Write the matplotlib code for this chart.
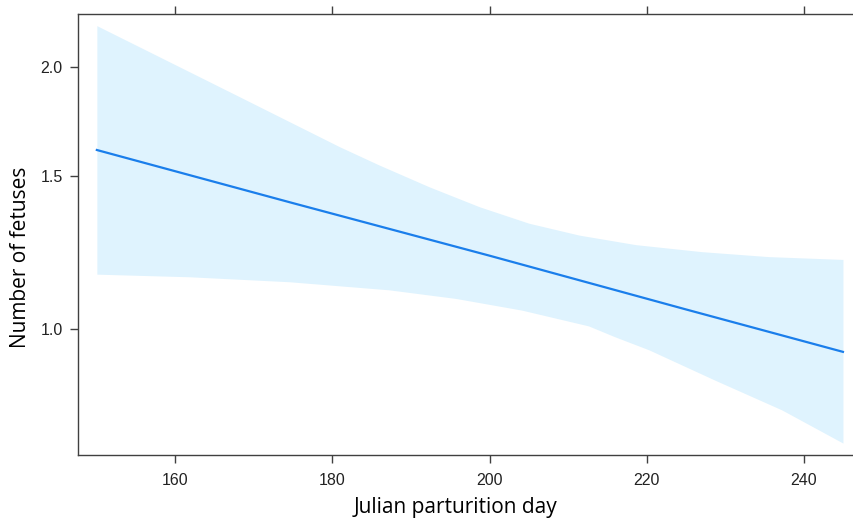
import numpy as np
import matplotlib
matplotlib.use("Agg")
import matplotlib.pyplot as plt
from matplotlib.ticker import FixedLocator, NullLocator

# Fitted effect (number of fetuses) vs Julian parturition day
fit_days = [150, 175, 200, 225, 245]
fit_vals = [1.607, 1.396, 1.215, 1.054, 0.942]

# Confidence band boundaries
upper_days = [150, 165.4, 180.9, 185.9, 192.3, 198.7, 205.0, 211.4, 218.6, 227.0, 235.5, 245]
upper_vals = [2.233, 1.904, 1.621, 1.545, 1.458, 1.383, 1.324, 1.283, 1.251, 1.228, 1.212, 1.203]

lower_days = [150, 161.8, 174.5, 187.2, 195.7, 204.1, 212.6, 216.0, 220.3, 228.7, 237.2, 245]
lower_vals = [1.157, 1.149, 1.134, 1.110, 1.085, 1.052, 1.009, 0.980, 0.947, 0.874, 0.808, 0.740]

x_ticks = [160, 180, 200, 220, 240]
y_ticks = [1.0, 1.5, 2.0]
y_tick_labels = ["1.0", "1.5", "2.0"]

W, H = 854, 522
fig = plt.figure(figsize=(W / 100, H / 100), dpi=100)
ax = fig.add_axes([78 / W, 1 - 455 / H, 1 - 78 / W - 0.001, (455 - 14) / H])

# band: boundaries joined on a common grid in log space for the fill
grid = np.linspace(150, 245, 400)
up = np.exp(np.interp(grid, upper_days, np.log(upper_vals)))
lo = np.exp(np.interp(grid, lower_days, np.log(lower_vals)))
ax.fill_between(grid, lo, up, color="#DFF3FE", linewidth=0)
ax.plot(fit_days, fit_vals, color="#1A7EEB", linewidth=1.6)

ax.set_yscale("log")
ax.set_xlim(147.6, 246.3)
ax.set_ylim(0.717, 2.303)

ax.xaxis.set_major_locator(FixedLocator(x_ticks))
ax.set_xticklabels([str(t) for t in x_ticks])
ax.yaxis.set_major_locator(FixedLocator(y_ticks))
ax.yaxis.set_minor_locator(NullLocator())
ax.set_yticklabels(y_tick_labels)

for s in ["left", "bottom", "top"]:
    ax.spines[s].set_color("#404040")
    ax.spines[s].set_linewidth(1.0)
ax.spines["right"].set_visible(False)

ax.tick_params(axis="x", which="both", direction="out", length=6, width=1, color="#404040",
               top=True, labeltop=False, labelsize=11.5, pad=7, labelcolor="#222222")
ax.tick_params(axis="y", which="both", direction="out", length=6, width=1, color="#404040",
               right=False, labelsize=11.5, pad=5, labelcolor="#222222")
for lab in ax.get_xticklabels() + ax.get_yticklabels():
    lab.set_fontfamily("Liberation Sans")

ax.set_xlabel("Julian parturition day", fontsize=15, fontfamily="Open Sans")
ax.set_ylabel("Number of fetuses", fontsize=15, fontfamily="Open Sans")
# place labels (axes-fraction coordinates)
ax_w = W - 78 - 0.001 * W
ax_h = 455 - 14
ax.xaxis.set_label_coords((456 - 78) / ax_w, -(508 - 455) / ax_h)
ax.xaxis.label.set_va("center")
ax.yaxis.set_label_coords(-(78 - 20) / ax_w, (455 - 257) / ax_h)
ax.yaxis.label.set_va("center")

fig.savefig("out.png", dpi=100)
